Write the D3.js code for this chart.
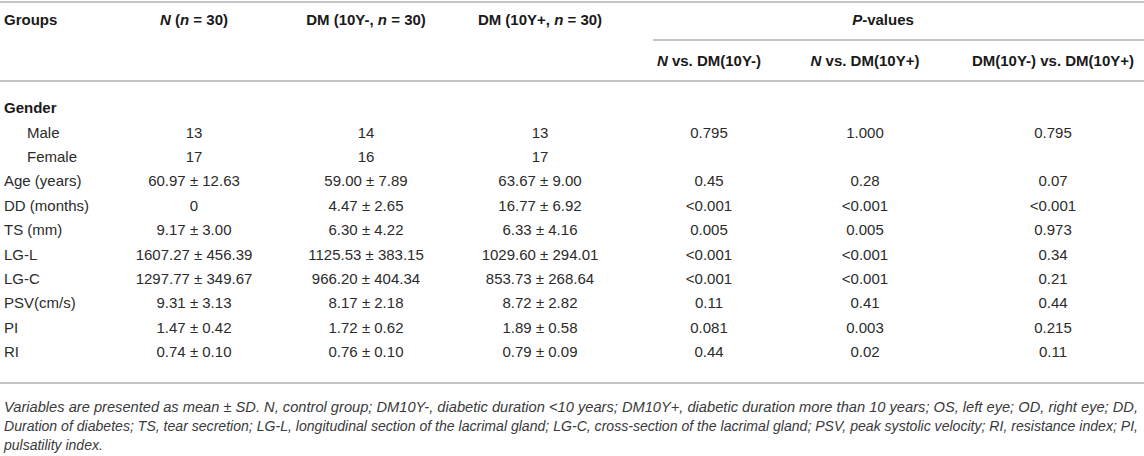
<!DOCTYPE html>
<html>
<head>
<meta charset="utf-8">
<script src="https://cdn.jsdelivr.net/npm/d3@7"></script>
<style>
  body { margin: 0; background: #fff; }
  text { font-family: "Liberation Sans", Arial, Helvetica, sans-serif; }
</style>
</head>
<body>
<script>
// Width and height
var w = 1144;
var h = 456;

// table data
var rowLabels = ["Gender", "Male", "Female", "Age (years)", "DD (months)", "TS (mm)",
                 "LG-L", "LG-C", "PSV(cm/s)", "PI", "RI"];
var indented = ["Male", "Female"];
var groupN = ["", "13", "17", "60.97 ± 12.63", "0", "9.17 ± 3.00",
              "1607.27 ± 456.39", "1297.77 ± 349.67", "9.31 ± 3.13", "1.47 ± 0.42", "0.74 ± 0.10"];
var groupDMminus = ["", "14", "16", "59.00 ± 7.89", "4.47 ± 2.65", "6.30 ± 4.22",
                    "1125.53 ± 383.15", "966.20 ± 404.34", "8.17 ± 2.18", "1.72 ± 0.62", "0.76 ± 0.10"];
var groupDMplus = ["", "13", "17", "63.67 ± 9.00", "16.77 ± 6.92", "6.33 ± 4.16",
                   "1029.60 ± 294.01", "853.73 ± 268.64", "8.72 ± 2.82", "1.89 ± 0.58", "0.79 ± 0.09"];
var pNvsMinus = ["", "0.795", "", "0.45", "<0.001", "0.005", "<0.001", "<0.001", "0.11", "0.081", "0.44"];
var pNvsPlus = ["", "1.000", "", "0.28", "<0.001", "0.005", "<0.001", "<0.001", "0.41", "0.003", "0.02"];
var pMinusVsPlus = ["", "0.795", "", "0.07", "<0.001", "0.973", "0.34", "0.21", "0.44", "0.215", "0.11"];

var columns = ["N", "DMm", "DMp", "p1", "p2", "p3"];

// header pieces: [text, italic]
var headers = [
  [["N", true], [" (", false], ["n", true], [" = 30)", false]],
  [["DM (10Y-, ", false], ["n", true], [" = 30)", false]],
  [["DM (10Y+, ", false], ["n", true], [" = 30)", false]],
  [["N", true], [" vs. DM(10Y-)", false]],
  [["N", true], [" vs. DM(10Y+)", false]],
  [["DM(10Y-) vs. DM(10Y+)", false]]
];

var footnote = [
  "Variables are presented as mean ± SD. N, control group; DM10Y-, diabetic duration <10 years; DM10Y+, diabetic duration more than 10 years; OS, left eye; OD, right eye; DD,",
  "Duration of diabetes; TS, tear secretion; LG-L, longitudinal section of the lacrimal gland; LG-C, cross-section of the lacrimal gland; PSV, peak systolic velocity; RI, resistance index; PI,",
  "pulsatility index."
];

var xScale = d3.scaleOrdinal()
    .domain(columns)
    .range([194, 366, 540, 709, 865, 1053]);

var yScale = d3.scalePoint()
    .domain(d3.range(rowLabels.length))
    .range([108, 352]);

var lineColor = "#c4c4c4";
var textColor = "#2b2b2b";

//Create SVG element
var svg = d3.select("body")
    .append("svg")
    .attr("width", w)
    .attr("height", h);

// rules
var rules = [
  {x1: 0, x2: w, y: 2},
  {x1: 653, x2: w, y: 40},
  {x1: 0, x2: w, y: 81},
  {x1: 0, x2: w, y: 383}
];
svg.selectAll("line.rule")
    .data(rules)
    .enter()
    .append("line")
    .attr("class", "rule")
    .attr("x1", d => d.x1)
    .attr("x2", d => d.x2)
    .attr("y1", d => d.y)
    .attr("y2", d => d.y)
    .attr("stroke", lineColor)
    .attr("stroke-width", 2);

// header row 1
var head = svg.append("g")
    .attr("font-weight", "bold")
    .attr("font-size", "15px")
    .attr("fill", "#1a1a1a");

head.append("text")
    .attr("x", 4)
    .attr("y", 20)
    .attr("dy", "0.35em")
    .text("Groups");

head.selectAll("text.h1")
    .data(headers.slice(0, 3))
    .enter()
    .append("text")
    .attr("class", "h1")
    .attr("text-anchor", "middle")
    .attr("x", (d, i) => xScale(columns[i]))
    .attr("y", 20)
    .attr("dy", "0.35em")
    .each(function(d) {
        var t = d3.select(this);
        d.forEach(function(p) {
            t.append("tspan")
                .attr("font-style", p[1] ? "italic" : "normal")
                .text(p[0]);
        });
    });

var pv = head.append("text")
    .attr("text-anchor", "middle")
    .attr("x", 883)
    .attr("y", 20)
    .attr("dy", "0.35em");
pv.append("tspan").attr("font-style", "italic").text("P");
pv.append("tspan").text("-values");

// header row 2
head.selectAll("text.h2")
    .data(headers.slice(3))
    .enter()
    .append("text")
    .attr("class", "h2")
    .attr("text-anchor", "middle")
    .attr("x", (d, i) => xScale(columns[i + 3]))
    .attr("y", 61)
    .attr("dy", "0.35em")
    .each(function(d) {
        var t = d3.select(this);
        d.forEach(function(p) {
            t.append("tspan")
                .attr("font-style", p[1] ? "italic" : "normal")
                .text(p[0]);
        });
    });

// row labels
svg.selectAll("text.label")
    .data(rowLabels)
    .enter()
    .append("text")
    .attr("class", "label")
    .attr("x", d => indented.indexOf(d) >= 0 ? 27 : 4)
    .attr("y", (d, i) => yScale(i))
    .attr("dy", "0.35em")
    .attr("font-size", "15px")
    .attr("font-weight", (d, i) => i === 0 ? "bold" : "normal")
    .attr("fill", (d, i) => i === 0 ? "#1a1a1a" : textColor)
    .text(d => d);

// body cells
var colData = [groupN, groupDMminus, groupDMplus, pNvsMinus, pNvsPlus, pMinusVsPlus];
colData.forEach(function(values, ci) {
    svg.append("g")
        .selectAll("text")
        .data(values)
        .enter()
        .append("text")
        .attr("text-anchor", "middle")
        .attr("x", xScale(columns[ci]))
        .attr("y", (d, i) => yScale(i))
        .attr("dy", "0.35em")
        .attr("font-size", "15px")
        .attr("fill", textColor)
        .text(d => d);
});

// footnote, the first two lines stretched to the table width
svg.selectAll("text.note")
    .data(footnote)
    .enter()
    .append("text")
    .attr("class", "note")
    .attr("x", 4)
    .attr("y", (d, i) => 407 + i * 19)
    .attr("dy", "0.35em")
    .attr("font-size", "14px")
    .attr("font-style", "italic")
    .attr("fill", "#3a3a3a")
    .each(function(d, i) {
        if (i < 2) {
            d3.select(this)
                .attr("textLength", 1134)
                .attr("lengthAdjust", "spacingAndGlyphs");
        }
    })
    .text(d => d);
</script>
</body>
</html>
